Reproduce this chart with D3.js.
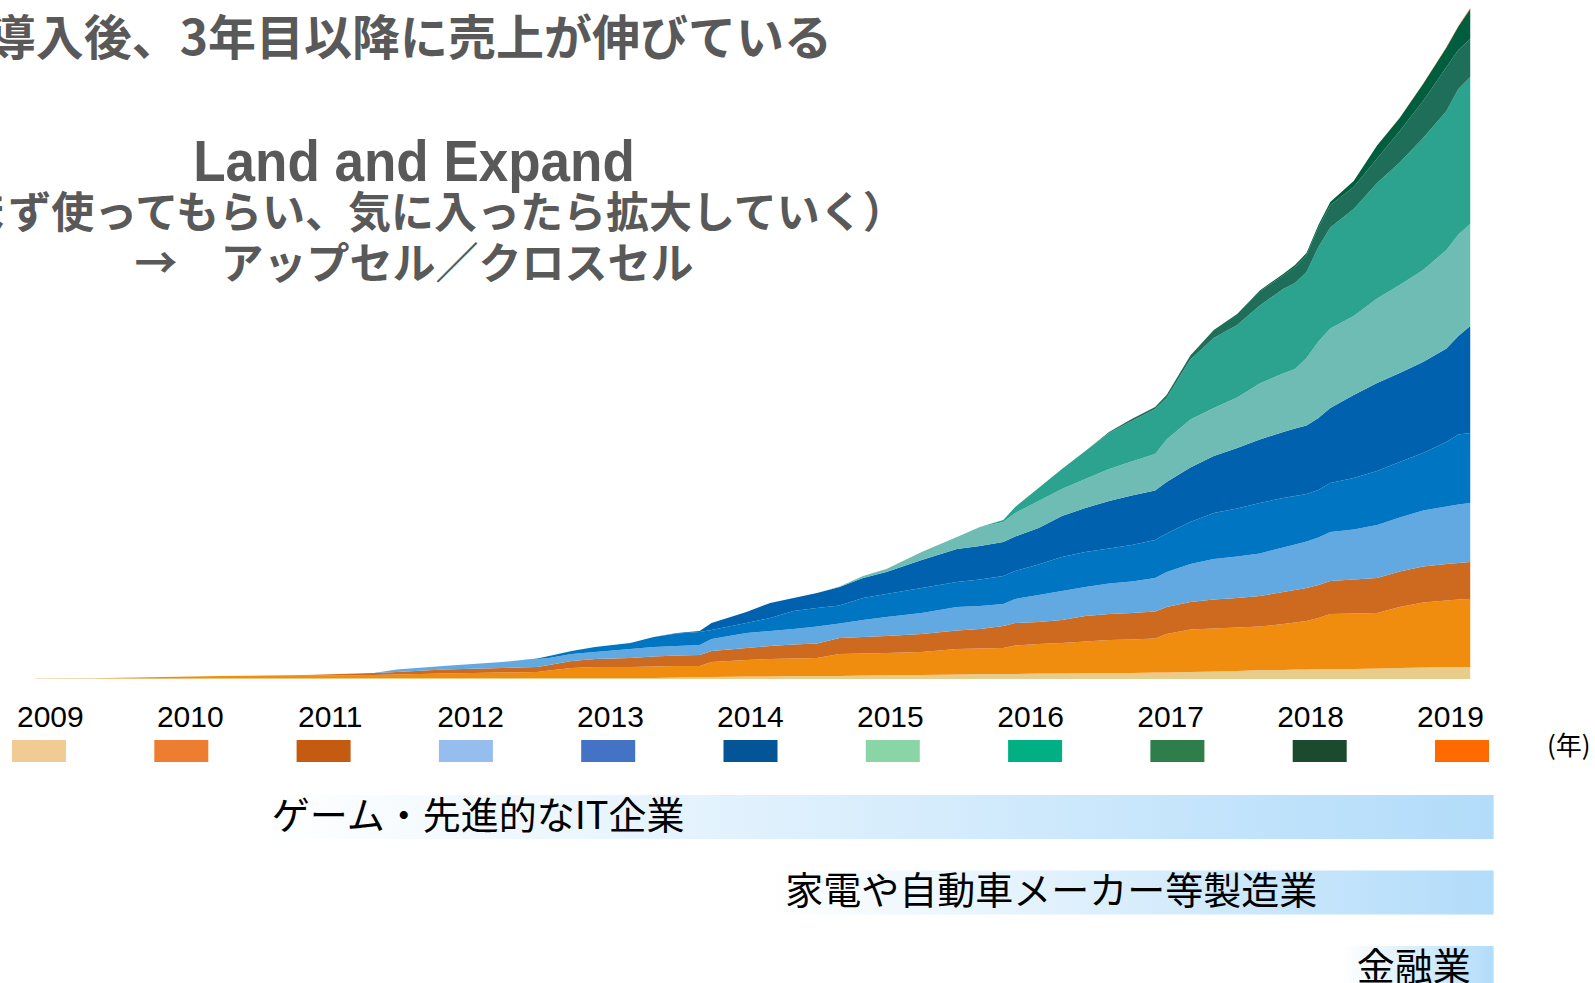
<!DOCTYPE html>
<html lang="ja">
<head>
<meta charset="utf-8">
<script src="https://d3js.org/d3.v7.min.js"></script>
<style>
    body { margin: 0; background: #ffffff; }
    svg { display: block; }
</style>
</head>
<body>
<svg id="drawing_region"></svg>
<script>
// monthly samples (cohort revenue, arbitrary units)
const months = ['2009-06','2009-11','2010-05','2010-10','2011-04','2011-06','2011-11','2012-01','2012-05','2012-10',
    '2013-01','2013-02','2013-04','2013-06','2013-09','2013-11','2014-01','2014-03','2014-04','2014-07',
    '2014-09','2014-11','2015-01','2015-03','2015-05','2015-07','2015-10','2016-01','2016-03','2016-05',
    '2016-06','2016-08','2016-10','2016-12','2017-02','2017-04','2017-06','2017-07','2017-09','2017-11',
    '2018-01','2018-03','2018-05','2018-06','2018-07','2018-08','2018-09','2018-11','2019-01','2019-03',
    '2019-05','2019-07','2019-08','2019-09'];

const cohorts = ['2009','2010','2011','2012','2013','2014','2015','2016','2017','2018','2019'];

const s2009 = [0.4,0.8,0.6,0.7,0.8,0.8,0.9,0.9,0.9,1, 1,1,1,1,1,1,1.5,2,2,2.5, 2.5,3,3,3,3.5,4,4,4.5,5,5,
    5,5.5,5.5,6,6,6,6.5,6.5,7,7.5, 8,9,9,9.5,9.5,10,10,10,10.5,11, 11.5,12,12,12];
const s2010 = [0,0,1.4,2.3,2.4,2.7,3,3.6,4.6,5.5, 6,7.5,10,11,11,11.5,11.5,11,15,16.5, 17.5,17.5,18,22,22,22,23,25.5,25.5,26,
    28.5,29.5,30.5,31.5,33,33.5,34,38.5,42.5,43, 43.5,43.5,46,47,48.5,51,55,55.5,55.5,61, 65,66.5,67.5,68];
const s2011 = [0,0,0,0,0.5,0.8,2.1,2.5,4,4.5, 5,5.5,7,8,9,10,10.5,11,11,12, 13,14,14.5,16,16.5,17,18,18.5,19.5,22,
    22.5,22,23,25.5,26,26.5,27,27,27.5,29, 29.5,30.5,32,32.5,33,33,33,34,35,35.5, 36,36.5,36.5,37];
const s2012 = [0,0,0,0,0,0,0,2.5,3.5,6, 8,7,7,7,9,9.5,9.5,10,12,15, 15,15.5,17,14.5,17,19,21,23.5,23,22,
    24,27,29,29,30.5,31.5,33.5,35,38,40.5, 41.5,42.5,44.5,45.5,46.5,47.5,49,50,53,54, 56,57.5,58.5,59];
const s2013 = [0,0,0,0,0,0,0,0,0,0, 0.5,2,3,5,6,10,12.5,13,9,10, 13,18,18.5,18,22,23,25,25,26.5,28,
    28,30.5,34,35,35,36.5,38,38.5,42,46, 48,50.5,49.5,48.5,47.5,47.5,49,51.5,54,55.5, 57.5,64.5,70,70];
const s2014 = [0,0,0,0,0,0,0,0,0,0, 0,0,0,0,0,0,0.5,1,7,11, 15,13,15,18.5,20,22,28,33,33.5,34,
    34.5,36.5,41,44,47.5,49.5,49.5,51.5,54.5,57, 60.5,63.5,66,67.5,68.5,72,75,83,88,89, 91,93.5,98.5,107];
const s2015 = [0,0,0,0,0,0,0,0,0,0, 0,0,0,0,0,0,0,0,0,0, 0,0,0,0.5,2,3,8,12,19,20,
    23.5,27,27,29,32,34,36.5,42.5,48,48, 50.5,56,58.5,59.5,67.5,76.5,79.5,79,84.5,88, 92,98.5,101.5,102];
const s2016 = [0,0,0,0,0,0,0,0,0,0, 0,0,0,0,0,0,0,0,0,0, 0,0,0,0,0,0,0,0,0,2,
    6,13,20,28,36,40.5,45,41.5,60,70, 72.5,78,84.5,86,86,94.5,101,107,115.5,122.5, 132,139,145.5,147];
const s2017 = [0,0,0,0,0,0,0,0,0,0, 0,0,0,0,0,0,0,0,0,0, 0,0,0,0,0,0,0,0,0,0,
    0,0,0,0,1,2,2,3,4,8, 11,14,13.5,16,17,19.5,22.5,22,24.5,31.5, 37,44,39,38];
const s2018 = [0,0,0,0,0,0,0,0,0,0, 0,0,0,0,0,0,0,0,0,0, 0,0,0,0,0,0,0,0,0,0,
    0,0,0,0,0,0,0,0,0,0, 0,1,1.5,2,2,2.5,3,6,13,13, 17,19.5,23.5,30];
const s2019 = [0,0,0,0,0,0,0,0,0,0, 0,0,0,0,0,0,0,0,0,0, 0,0,0,0,0,0,0,0,0,0,
    0,0,0,0,0,0,0,0,0,0, 0,0,0,0,0,0,0,0,0,0.2, 0.3,0.5,0.5,1];

const series = [s2009, s2010, s2011, s2012, s2013, s2014, s2015, s2016, s2017, s2018, s2019];

const areaColors = ['#e7cc8c','#f08c0e','#ce6a1f','#62a9e2','#0075c2','#0062ae','#6ebcb4','#2ba38f','#1e6e5a','#005e3e','#ff6a00'];
const legendColors = ['#f0cb93','#ed7d31','#c55a11','#95bdee','#4472c4','#035597','#8ad5a5','#00b084','#2e7d4b','#1c4a2e','#ff6a00'];

const industries = ['ゲーム・先進的なIT企業', '家電や自動車メーカー等製造業', '金融業'];
const industryStart = ['2011-01', '2014-09', '2018-10'];
const industryEnd = '2019-11';

const titleText = '導入後、3年目以降に売上が伸びている';
const headText = 'Land and Expand';
const subLines = ['（まず使ってもらい、気に入ったら拡大していく）', '→　アップセル／クロスセル'];
const unitText = '(年)';

const parseMonth = d3.timeParse('%Y-%m');

const table = months.map((m, i) => {
    const row = { date: parseMonth(m) };
    cohorts.forEach((c, k) => { row[c] = series[k][i]; });
    return row;
});

class CohortChart {

    constructor( config, data ) {
        this.config = config;
        this.data = data;
        this.init();
    }

    init() {
        let self = this;

        self.svg = d3.select( self.config.parent )
            .attr('width', self.config.width)
            .attr('height', self.config.height);

        self.xscale = d3.scaleTime()
            .domain([new Date(2009, 0, 1), new Date(2020, 0, 1)])
            .range([-23, 1517]);

        self.yscale = d3.scaleLinear()
            .range([679, 8]);

        self.stack = d3.stack().keys(cohorts);

        self.area = d3.area()
            .x(d => self.xscale(d.data.date))
            .y0(d => self.yscale(d[0]))
            .y1(d => self.yscale(d[1]));
    }

    update() {
        let self = this;
        self.layers = self.stack(self.data);
        const top = d3.max(self.layers[self.layers.length - 1], d => d[1]);
        self.yscale.domain([0, top]);
        self.render();
    }

    render() {
        let self = this;
        const grey = '#595959';
        const jp = '"Noto Sans CJK JP", "Noto Sans", sans-serif';

        // stacked areas
        self.svg.append('g')
            .selectAll('path')
            .data(self.layers)
            .join('path')
            .attr('d', self.area)
            .attr('fill', (d, i) => areaColors[i]);

        // headline texts
        self.svg.append('text')
            .attr('x', 832).attr('y', 55)
            .attr('text-anchor', 'end')
            .attr('font-family', jp)
            .attr('font-weight', 700)
            .attr('font-size', 48)
            .attr('fill', grey)
            .text(titleText);

        self.svg.append('text')
            .attr('transform', 'translate(414,181) scale(1,1.08)')
            .attr('text-anchor', 'middle')
            .attr('font-family', '"Liberation Sans", Arial, sans-serif')
            .attr('font-weight', 700)
            .attr('font-size', 53)
            .attr('fill', grey)
            .text(headText);

        self.svg.selectAll('.sub')
            .data(subLines)
            .join('text')
            .attr('class', 'sub')
            .attr('x', 414)
            .attr('y', (d, i) => 228 + i * 51)
            .attr('text-anchor', 'middle')
            .attr('font-family', jp)
            .attr('font-weight', 700)
            .attr('font-size', 43)
            .attr('fill', grey)
            .text(d => d);

        // legend
        const swatch = d3.scalePoint().domain(cohorts).range([39, 1462]);

        self.svg.selectAll('.lab')
            .data(cohorts)
            .join('text')
            .attr('class', 'lab')
            .attr('x', d => self.xscale(new Date(+d, 6, 1)) + 4)
            .attr('y', 727)
            .attr('text-anchor', 'middle')
            .attr('font-family', '"Liberation Sans", Arial, sans-serif')
            .attr('font-size', 30)
            .attr('fill', '#000')
            .text(d => d);

        self.svg.selectAll('.sw')
            .data(cohorts)
            .join('rect')
            .attr('class', 'sw')
            .attr('x', d => swatch(d) - 27)
            .attr('y', 740)
            .attr('width', 54)
            .attr('height', 22)
            .attr('fill', (d, i) => legendColors[i]);

        self.svg.append('text')
            .attr('x', 1547).attr('y', 755)
            .attr('font-family', jp)
            .attr('font-size', 26)
            .attr('fill', '#000')
            .text(unitText);

        // industry bars
        const grad = self.svg.append('defs').append('linearGradient')
            .attr('id', 'barGrad')
            .attr('x1', 0).attr('x2', 1).attr('y1', 0).attr('y2', 0);
        grad.append('stop').attr('offset', 0).attr('stop-color', '#ffffff');
        grad.append('stop').attr('offset', 1).attr('stop-color', '#b2dcfa');

        const band = d3.scaleBand()
            .domain(industries)
            .range([795, 990])
            .paddingInner(0.417)
            .paddingOuter(0);

        const xend = self.xscale(parseMonth(industryEnd));

        const bars = self.svg.selectAll('.ind')
            .data(industries)
            .join('g')
            .attr('class', 'ind');

        bars.append('rect')
            .attr('x', (d, i) => self.xscale(parseMonth(industryStart[i])))
            .attr('y', d => band(d))
            .attr('width', (d, i) => xend - self.xscale(parseMonth(industryStart[i])))
            .attr('height', band.bandwidth())
            .attr('fill', 'url(#barGrad)');

        bars.append('text')
            .attr('x', (d, i) => self.xscale(parseMonth(industryStart[i])) + 15)
            .attr('y', d => band(d) + 34)
            .attr('font-family', jp)
            .attr('font-size', 38)
            .attr('fill', '#000')
            .text(d => d);
    }
}

const config = {
    parent: '#drawing_region',
    width: 1595,
    height: 983
};

const cohort_chart = new CohortChart( config, table );
cohort_chart.update();
</script>
</body>
</html>
